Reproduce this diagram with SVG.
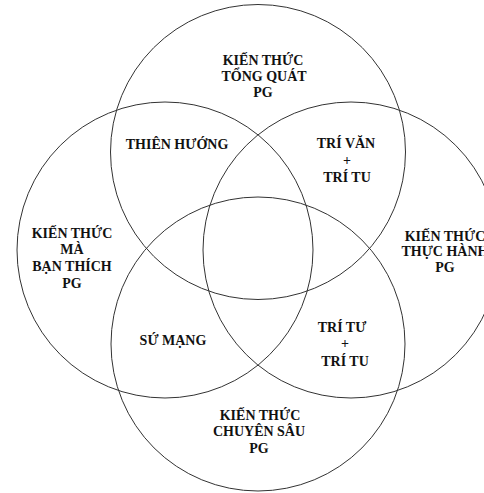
<svg xmlns="http://www.w3.org/2000/svg" width="484" height="493" viewBox="0 0 484 493">
<style>
.c{fill:none;stroke:#333;stroke-width:1}
.t{font-family:"Liberation Serif","Times New Roman",serif;font-weight:bold;font-size:14px;fill:#111;text-anchor:middle}
</style>
<rect width="484" height="493" fill="#fff"/>
<g id="circles">
<circle id="top" class="c" cx="258" cy="152" r="147.5"/>
<circle id="left" class="c" cx="165" cy="250" r="148"/>
<circle id="right" class="c" cx="351" cy="250" r="148"/>
<circle id="bottom" class="c" cx="258" cy="344" r="147"/>
</g>
<g id="labels">
<text class="t" x="263" y="65">KIẾN THỨC</text>
<text class="t" x="264" y="81">TỔNG QUÁT</text>
<text class="t" x="263" y="97">PG</text>
<text class="t" x="177" y="149">THIÊN HƯỚNG</text>
<text class="t" x="346" y="148">TRÍ VĂN</text>
<text class="t" x="347" y="165">+</text>
<text class="t" x="347" y="182">TRÍ TU</text>
<text class="t" x="72" y="238">KIẾN THỨC</text>
<text class="t" x="72" y="254">MÀ</text>
<text class="t" x="72" y="271">BẠN THÍCH</text>
<text class="t" x="72" y="288">PG</text>
<text class="t" x="445" y="241">KIẾN THỨC</text>
<text class="t" x="445" y="256">THỰC HÀNH</text>
<text class="t" x="445" y="272">PG</text>
<text class="t" x="173" y="345">SỨ MẠNG</text>
<text class="t" x="342" y="332">TRÍ TƯ</text>
<text class="t" x="345" y="348">+</text>
<text class="t" x="345" y="366">TRÍ TU</text>
<text class="t" x="260" y="420">KIẾN THỨC</text>
<text class="t" x="259" y="436">CHUYÊN SÂU</text>
<text class="t" x="259" y="453">PG</text>
</g>
</svg>
